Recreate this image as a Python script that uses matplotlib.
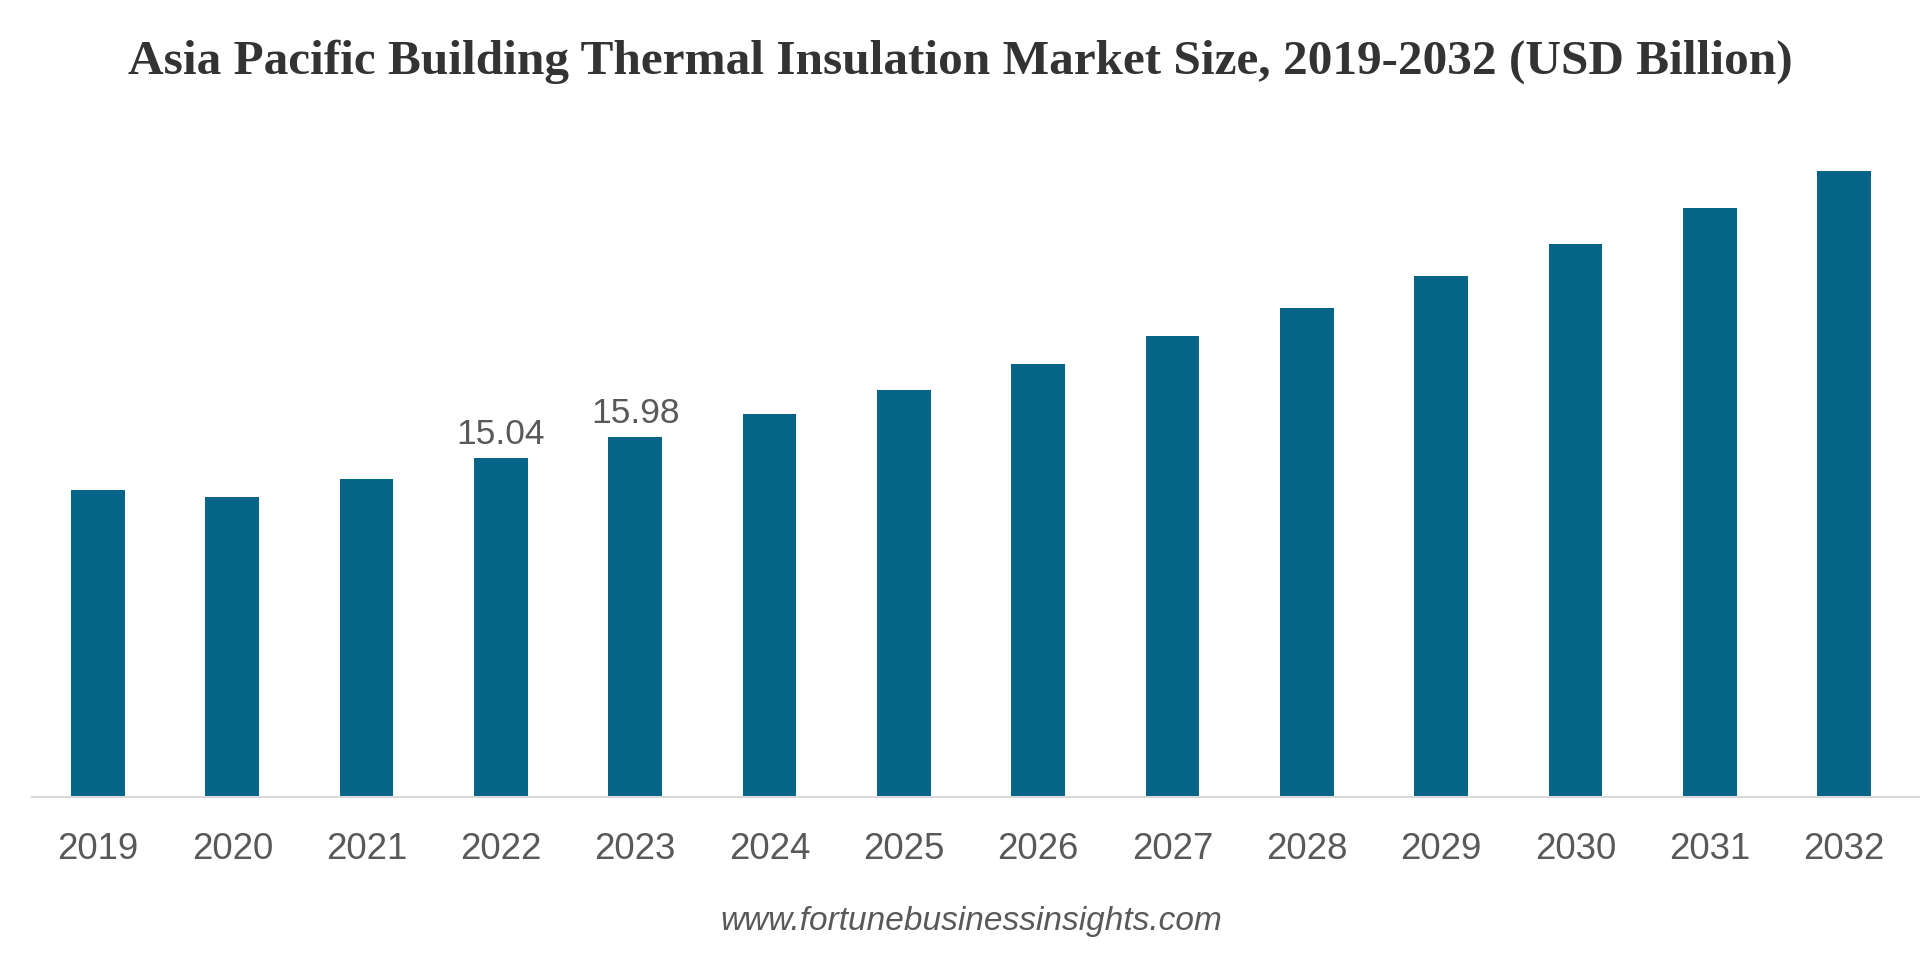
import matplotlib
matplotlib.use("Agg")
import matplotlib.pyplot as plt

# market size by year (USD billion)
years = ["2019", "2020", "2021", "2022", "2023", "2024", "2025",
         "2026", "2027", "2028", "2029", "2030", "2031", "2032"]
values = [13.62, 13.32, 14.14, 15.04, 15.98, 17.02, 18.09,
          19.23, 20.46, 21.73, 23.13, 24.57, 26.15, 27.80]
labelled = ["2022", "2023"]

bar_color = "#066489"
text_gray = "#595959"

fig = plt.figure(figsize=(19.2, 9.55), dpi=100)
ax = fig.add_axes([0.0165, 0.1654, 0.9835, 0.672])

x = range(len(years))
bars = ax.bar(x, values, width=0.4, color=bar_color, zorder=2)

for i, yr in enumerate(years):
    if yr in labelled:
        ax.annotate(f"{values[i]:.2f}", (i, values[i]), xytext=(0, 10),
                    textcoords="offset points", ha="center", va="baseline",
                    fontsize=25.5, color=text_gray, family="Liberation Sans")

ax.set_xlim(-0.494, 13.566)
ax.set_ylim(0, 28.5)
ax.set_xticks(list(x))
ax.set_xticklabels(years, fontsize=26.4, color=text_gray, family="Liberation Sans")
ax.tick_params(axis="x", length=0, pad=25)
ax.set_yticks([])
for side in ["top", "right", "left"]:
    ax.spines[side].set_visible(False)
ax.spines["bottom"].set_color("#d9d9d9")
ax.spines["bottom"].set_linewidth(1.5)

fig.text(0.5, 1 - 74 / 955,
         "Asia Pacific Building Thermal Insulation Market Size, 2019-2032 (USD Billion)",
         ha="center", va="baseline", fontsize=35.5, fontweight="bold",
         family="Liberation Serif", color="#333333")
fig.text(0.5057, 1 - 930 / 955, "www.fortunebusinessinsights.com",
         ha="center", va="baseline", fontsize=24, style="italic",
         family="Liberation Sans", color=text_gray)

fig.savefig("out.png", dpi=100)
